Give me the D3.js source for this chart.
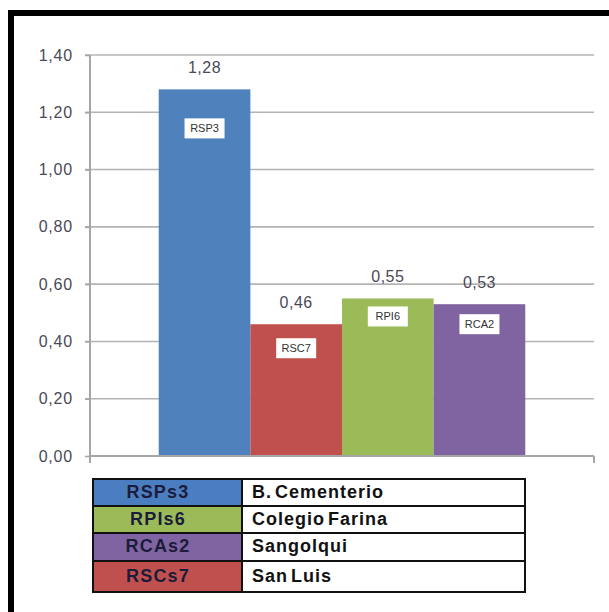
<!DOCTYPE html>
<html>
<head>
<meta charset="utf-8">
<script src="https://cdn.jsdelivr.net/npm/d3@7"></script>
<style>
  html, body { margin: 0; padding: 0; background: #fff; }
  svg { display: block; }
  text { font-family: "Liberation Sans", Arial, sans-serif; }
</style>
</head>
<body>
<svg id="chart" width="609" height="612"></svg>
<script>
// Sample codes drawn as bars, with their values
const sampleCodes = ["RSP3", "RSC7", "RPI6", "RCA2"];
const sampleValues = [1.28, 0.46, 0.55, 0.53];
const barColors = ["#4F81BD", "#C0504D", "#9BBB59", "#8064A2"];

// Key table: code, site name, colour
const keyCodes = ["RSPs3", "RPIs6", "RCAs2", "RSCs7"];
const keySites = ["B. Cementerio", "Colegio Farina", "Sangolqui", "San Luis"];
const keyColors = ["#4A7EC0", "#9BBB59", "#8064A2", "#C0504D"];

// Value axis ticks
const yTickValues = [0, 0.2, 0.4, 0.6, 0.8, 1.0, 1.2, 1.4];

const svg = d3.select("#chart");
const comma = d3.formatLocale({ decimal: ",", thousands: ".", grouping: [3], currency: ["", ""] }).format(".2f");

const plot = { left: 90, right: 594, top: 55, bottom: 456 };

const y = d3.scaleLinear().domain([0, 1.4]).range([plot.bottom, plot.top]);
const x = d3.scaleBand().domain(sampleCodes).range([plot.left, plot.right])
  .paddingInner(0).paddingOuter(0.75);

// Frame (only the top and left edges fall inside the view)
svg.append("path")
  .attr("d", "M11,612 V13 H609")
  .attr("fill", "none").attr("stroke", "#000").attr("stroke-width", 6);

// Gridlines
svg.append("g").selectAll("line").data(yTickValues.filter(v => v > 0)).join("line")
  .attr("x1", plot.left - 5).attr("x2", plot.right)
  .attr("y1", d => y(d)).attr("y2", d => y(d))
  .attr("stroke", "#b4b4b4").attr("stroke-width", 1.6);

// Value axis
const yAxis = svg.append("g").attr("transform", `translate(${plot.left},0)`)
  .call(d3.axisLeft(y).tickValues(yTickValues).tickFormat(comma).tickSize(5).tickPadding(12));
yAxis.select(".domain").attr("stroke", "#a6a6a6").attr("stroke-width", 2)
  .attr("d", `M0,${plot.top}V${plot.bottom + 7}`);
yAxis.selectAll(".tick line").attr("stroke", "#a6a6a6").attr("stroke-width", 1.6);
yAxis.selectAll(".tick text").attr("fill", "#4a4a58").attr("font-size", 16)
  .attr("letter-spacing", 0.8)
  .attr("font-family", "'Liberation Sans', Arial, sans-serif");

// Bars
svg.append("g").selectAll("rect").data(sampleCodes).join("rect")
  .attr("x", d => x(d)).attr("width", x.bandwidth())
  .attr("y", (d, i) => y(sampleValues[i]))
  .attr("height", (d, i) => y(0) - y(sampleValues[i]))
  .attr("fill", (d, i) => barColors[i]);

// Category axis
const xAxisG = svg.append("g");
xAxisG.append("path")
  .attr("d", `M${plot.left},${plot.bottom} H${plot.right} M${plot.right},${plot.bottom} V${plot.bottom + 7}`)
  .attr("fill", "none").attr("stroke", "#a6a6a6").attr("stroke-width", 2);

// Value labels above bars
svg.append("g").selectAll("text").data(sampleCodes).join("text")
  .attr("x", d => x(d) + x.bandwidth() / 2)
  .attr("y", (d, i) => y(sampleValues[i]) - 16)
  .attr("text-anchor", "middle")
  .attr("fill", "#4a4a58").attr("font-size", 16).attr("letter-spacing", 0.5)
  .text((d, i) => comma(sampleValues[i]));

// Code tags inside the bars (pixel drop below the bar top)
const tagDrop = [29, 14, 8, 10];
const tags = svg.append("g").selectAll("g").data(sampleCodes).join("g")
  .attr("transform", (d, i) => `translate(${x(d) + x.bandwidth() / 2},${y(sampleValues[i]) + tagDrop[i]})`);
tags.append("rect")
  .attr("x", -20).attr("y", 0).attr("width", 40).attr("height", 20)
  .attr("fill", "#fff");
tags.append("text")
  .attr("y", 14).attr("text-anchor", "middle")
  .attr("font-size", 11).attr("fill", "#333")
  .attr("font-family", "'Liberation Sans Narrow', 'Liberation Sans', Arial, sans-serif")
  .text(d => d);

// Key table
const table = { left: 93, mid: 242, right: 525, top: 479 };
const rowH = [27, 27, 28, 31];
let rowY = table.top;
const rows = keyCodes.map((c, i) => { const r = { y: rowY, h: rowH[i] }; rowY += rowH[i]; return r; });

const keyG = svg.append("g");
const row = keyG.selectAll("g").data(keyCodes).join("g");
row.append("rect")
  .attr("x", table.left).attr("y", (d, i) => rows[i].y)
  .attr("width", table.mid - table.left).attr("height", (d, i) => rows[i].h)
  .attr("fill", (d, i) => keyColors[i]).attr("stroke", "#111").attr("stroke-width", 2);
row.append("rect")
  .attr("x", table.mid).attr("y", (d, i) => rows[i].y)
  .attr("width", table.right - table.mid).attr("height", (d, i) => rows[i].h)
  .attr("fill", "#fff").attr("stroke", "#111").attr("stroke-width", 2);
row.append("text")
  .attr("x", 158).attr("y", (d, i) => rows[i].y + rows[i].h / 2 + 5)
  .attr("text-anchor", "middle")
  .attr("font-weight", "bold").attr("font-size", 18).attr("letter-spacing", 1.2)
  .attr("fill", "#1c1c3a")
  .text(d => d);
row.append("text")
  .attr("x", 252).attr("y", (d, i) => rows[i].y + rows[i].h / 2 + 5)
  .attr("font-weight", "bold").attr("font-size", 18).attr("letter-spacing", 1)
  .attr("word-spacing", -3)
  .attr("fill", "#111")
  .text((d, i) => keySites[i]);
</script>
</body>
</html>
